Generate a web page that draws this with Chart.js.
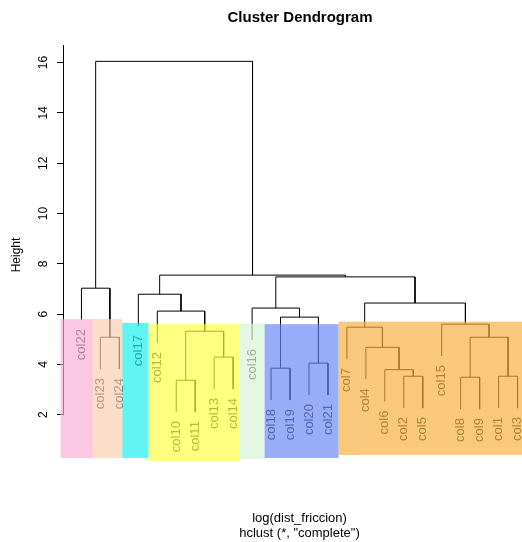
<!DOCTYPE html>
<html><head><meta charset="utf-8">
<script src="https://cdn.jsdelivr.net/npm/chart.js@4.4.1/dist/chart.umd.min.js"></script>
<style>html,body{margin:0;padding:0;overflow:hidden;background:#fff}canvas{display:block}</style>
</head><body>
<canvas id="c" width="600" height="542" style="width:600px;height:542px"></canvas>
<script>
// leaves in plotting order
const leafLabels = ['col22','col23','col24','col17','col12','col10','col11','col13','col14','col16',
  'col18','col19','col20','col21','col7','col4','col6','col2','col5','col15','col8','col9','col1','col3'];
// hclust-style merge table (negative = leaf position, positive = earlier merge row)
const mergeLeft   = [-6, -21, -18, -23, -17, -11, -13, -8, -16, -2, 2, 1, -15, -20, 6, -5, -10, 13, -4, -1, 17, 19, 20];
const mergeRight  = [-7, -22, -19, -24,   3, -12, -14, -9,   5, -3, 4, 8,   9,  11, 7, 12,  15, 14, 16, 10, 18, 21, 22];
const mergeHeight = [3.37, 3.49, 3.53, 3.53, 3.79, 3.85, 4.05, 4.29, 4.68, 5.08, 5.08, 5.32, 5.48, 5.6,
  5.88, 6.12, 6.24, 6.44, 6.79, 7.03, 7.48, 7.55, 16.05];
const yTicks = [2, 4, 6, 8, 10, 12, 14, 16];
// highlighted cluster boxes (leaf-axis edges, height extents)
const clusterEdges  = [-0.1, 1.63, 3.16, 4.54, 9.34, 10.66, 14.56, 24.92];
const clusterTop    = [5.8, 5.8, 5.65, 5.6, 5.62, 5.6, 5.7];
const clusterBottom = [0.28, 0.28, 0.28, 0.16, 0.24, 0.28, 0.4];
const clusterColors = ['rgba(249,174,215,0.68)','rgba(251,206,174,0.68)','rgba(20,239,239,0.68)',
  'rgba(255,255,68,0.68)','rgba(212,243,215,0.68)','rgba(104,133,246,0.68)','rgba(246,174,64,0.68)'];

const hang = 0.1 * (Math.max(...mergeHeight) - Math.min(...mergeHeight));
const nodeX = [], nodeH = [];
const leafBottom = new Array(leafLabels.length).fill(0);
const datasets = [];
function childInfo(c, h) {
  if (c < 0) { leafBottom[-c - 1] = h - hang; return {x: -c, y: h - hang}; }
  return {x: nodeX[c - 1], y: nodeH[c - 1]};
}
for (let k = 0; k < mergeHeight.length; k++) {
  const h = mergeHeight[k];
  const a = childInfo(mergeLeft[k], h), b = childInfo(mergeRight[k], h);
  nodeX.push((a.x + b.x) / 2); nodeH.push(h);
  datasets.push({
    data: [{x: a.x, y: a.y}, {x: a.x, y: h}, {x: b.x, y: h}, {x: b.x, y: b.y}],
    showLine: true, borderColor: '#000', borderWidth: 1, pointRadius: 0, pointHoverRadius: 0,
    tension: 0, fill: false
  });
}

Chart.defaults.font.family = "'Liberation Sans', Arial, Helvetica, sans-serif";
Chart.defaults.color = '#000';

const extras = {
  id: 'extras',
  beforeDatasetsDraw(chart) {
    const {ctx, chartArea} = chart;
    const xs = chart.scales.x, ys = chart.scales.y;
    ctx.save();
    // axis line
    ctx.strokeStyle = '#000'; ctx.lineWidth = 1;
    const ax = Math.round(chartArea.left) - 0.5;
    ctx.beginPath(); ctx.moveTo(ax, ys.getPixelForValue(yTicks[0]) + 0.5); ctx.lineTo(ax, chartArea.top); ctx.stroke();
    // leaf labels
    ctx.fillStyle = '#222';
    ctx.font = "13px 'Liberation Sans', Arial, sans-serif";
    ctx.textAlign = 'right'; ctx.textBaseline = 'middle';
    leafLabels.forEach((lab, i) => {
      const px = xs.getPixelForValue(i + 1), py = ys.getPixelForValue(leafBottom[i]) + 9;
      ctx.save(); ctx.translate(px, py); ctx.rotate(-Math.PI / 2); ctx.fillText(lab, 0, 0); ctx.restore();
    });
    ctx.restore();
  },
  afterDatasetsDraw(chart) {
    const {ctx} = chart;
    const xs = chart.scales.x, ys = chart.scales.y;
    ctx.save();
    clusterColors.forEach((col, i) => {
      const x1 = xs.getPixelForValue(clusterEdges[i]), x2 = xs.getPixelForValue(clusterEdges[i + 1]);
      const y1 = ys.getPixelForValue(clusterTop[i]), y2 = ys.getPixelForValue(clusterBottom[i]);
      ctx.fillStyle = col;
      ctx.fillRect(x1, y1, x2 - x1, y2 - y1);
    });
    ctx.restore();
  }
};

new Chart(document.getElementById('c'), {
  type: 'scatter',
  data: {datasets},
  options: {
    responsive: false, animation: false, devicePixelRatio: 1,
    layout: {padding: 0},
    plugins: {
      legend: {display: false}, tooltip: {enabled: false},
      title: {display: true, text: 'Cluster Dendrogram', color: '#000',
        font: {size: 15, weight: 'bold'}, padding: {top: 9, bottom: 18}}
    },
    scales: {
      x: {
        type: 'linear', min: 0.08, max: 24.92,
        ticks: {display: false}, grid: {display: false}, border: {display: false},
        title: {display: true, text: ['log(dist_friccion)', 'hclust (*, "complete")'],
          font: {size: 13, lineHeight: 1.154}, color: '#000', padding: {top: 0, bottom: 1.5}},
        afterFit: s => { s.height = 77; }
      },
      y: {
        type: 'linear', min: 0, max: 16.7,
        afterBuildTicks: s => { s.ticks = yTicks.map(v => ({value: v})); },
        ticks: {minRotation: 90, maxRotation: 90, crossAlign: 'center', padding: 7,
          font: {size: 12}, color: '#000'},
        grid: {display: true, drawOnChartArea: false, drawTicks: true, tickLength: 7, color: '#000', lineWidth: 1},
        border: {display: false},
        title: {display: true, text: 'Height', font: {size: 12}, color: '#000', padding: {top: 9, bottom: 0}},
        afterFit: s => { s.width = 64; }
      },
      yRight: {
        type: 'linear', position: 'right', display: true, min: 0, max: 16.7,
        ticks: {display: false}, grid: {display: false, drawTicks: false}, border: {display: false},
        afterFit: s => { s.width = 65; }
      }
    }
  },
  plugins: [extras]
});
</script>
</body></html>
